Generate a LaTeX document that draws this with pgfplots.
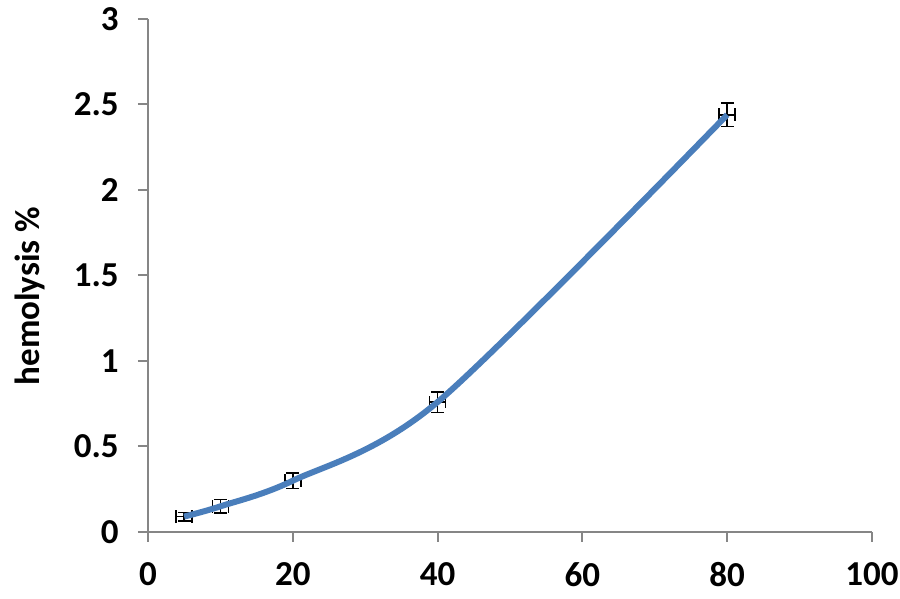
\documentclass[border=0pt]{standalone}
\usepackage{fontspec}
\setmainfont{Carlito}
\usepackage{pgfplots}
\usepackage{pgfplotstable}
\pgfplotsset{compat=1.18}
\definecolor{lineblue}{RGB}{74,126,187}
\definecolor{axgray}{RGB}{134,134,134}
\pgfplotstableread{
x   y     ex   ey
5   0.09  1.1  0.025
10  0.15  1.1  0.04
20  0.30  1.1  0.045
40  0.76  1.1  0.06
80  2.44  1.1  0.07
}\datatable
\begin{document}
\begin{tikzpicture}
\begin{axis}[
  scale only axis,
  width=362pt, height=256.5pt,
  xmin=0, xmax=100, ymin=0, ymax=3,
  axis x line*=bottom, axis y line*=left,
  axis line style={axgray, line width=1pt},
  xtick={0,20,...,100}, ytick={0,0.5,...,3},
  tick align=outside,
  major tick length=5pt,
  every tick/.style={axgray, line width=1pt},
  /pgf/number format/assume math mode=true,
  tick label style={font=\fontsize{17.5}{21}\selectfont\bfseries, black},
  yticklabel style={anchor=east, inner sep=0pt, xshift=-9.5pt},
  xticklabel style={anchor=north, inner sep=0pt, yshift=-10pt},
  ylabel={hemolysis \%},
  ylabel style={font=\fontsize{17.5}{21}\selectfont\bfseries, at={(axis description cs:-0.163,0.46)}, anchor=center},
  clip=false,
]
\addplot[draw=none, mark=none,
  error bars/.cd, x dir=both, x explicit, y dir=both, y explicit,
  error bar style={draw=black, line width=0.75pt},
  error mark options={draw=black, line width=0.75pt, mark size=3.2pt, rotate=90}]
  table[x=x, y=y, x error=ex, y error=ey] {\datatable};
\addplot[lineblue, line width=3pt, smooth, tension=0.5, mark=none]
  table[x=x, y=y] {\datatable};
\end{axis}
\useasboundingbox ([xshift=-74pt,yshift=-33.5pt]current axis.south west) rectangle ([xshift=14pt,yshift=9.5pt]current axis.north east);
\end{tikzpicture}
\end{document}
